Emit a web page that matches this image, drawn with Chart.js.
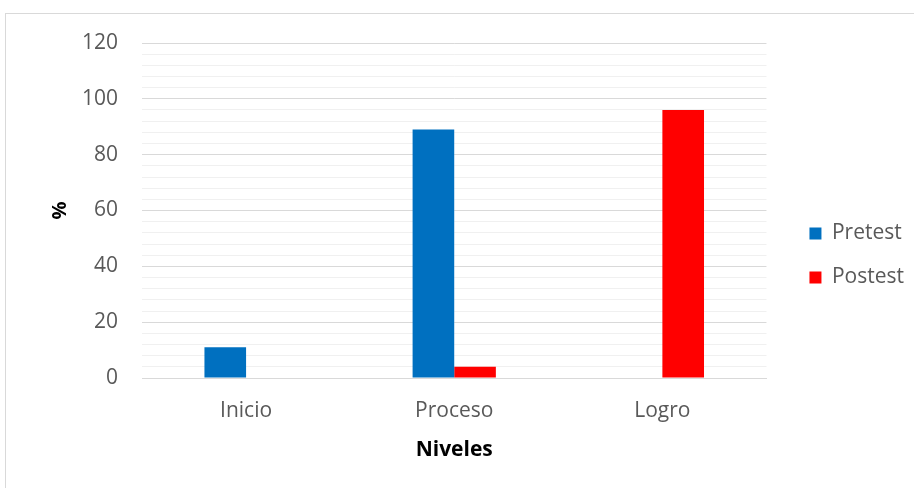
<!DOCTYPE html>
<html>
<head>
<meta charset="utf-8">
<script src="https://cdn.jsdelivr.net/npm/chart.js@4"></script>
<style>
  html, body { margin: 0; padding: 0; overflow: hidden; background: #fff; }
  #frame { position: absolute; left: 5px; top: 13px; width: 940px; height: 500px; border: 1px solid #d9d9d9; }
  #wrap { position: absolute; left: 0; top: 0; width: 914px; height: 488px; }
</style>
</head>
<body>
<div id="frame"></div>
<div id="wrap"><canvas id="myBarChart"></canvas></div>
<script>
var categories = ["Inicio", "Proceso", "Logro"];
var pretest = [11, 89, 0];
var postest = [0, 4, 96];
var seriesNames = ["Pretest", "Postest"];
var yTitle = "%";
var xTitle = "Niveles";

function makeChart() {
    var tickGray = "#595959";

    var graphData = {
        labels: categories,
        datasets: [{
            label: seriesNames[0],
            data: pretest,
            backgroundColor: "#0070C0",
            borderWidth: 0
        }, {
            label: seriesNames[1],
            data: postest,
            backgroundColor: "#FF0000",
            borderWidth: 0
        }]
    };

    var ctx = document.getElementById("myBarChart").getContext("2d");

    new Chart(ctx, {
        type: 'bar',
        data: graphData,
        options: {
            responsive: true,
            maintainAspectRatio: false,
            animation: false,
            datasets: { bar: { categoryPercentage: 0.4, barPercentage: 1 } },
            layout: { padding: { left: 40, top: 43, right: 0, bottom: 24 } },
            plugins: {
                tooltip: { enabled: false },
                legend: {
                    position: 'right',
                    // empty title only nudges the items down a little
                    title: { display: true, text: ' ', padding: 0, font: { size: 10, lineHeight: 0.4 } },
                    labels: {
                        boxWidth: 12,
                        boxHeight: 12,
                        padding: 23,
                        color: tickGray,
                        font: { family: "'Open Sans'", size: 21 }
                    }
                }
            },
            scales: {
                x: {
                    grid: { display: false },
                    border: { color: "#d9d9d9" },
                    ticks: { color: tickGray, padding: 12, font: { family: "'Open Sans'", size: 21 } },
                    title: {
                        display: true,
                        text: xTitle,
                        color: "#000",
                        padding: { top: 4, bottom: 1 },
                        font: { family: "'Open Sans'", size: 21, weight: 'bold' }
                    },
                    afterFit: function (s) { s.height = 86; }
                },
                y: {
                    min: 0,
                    max: 120,
                    border: { display: false },
                    grid: {
                        drawTicks: false,
                        color: function (c) {
                            return c.tick && c.tick.value % 20 === 0 ? "#d9d9d9" : "#f0f0f0";
                        }
                    },
                    ticks: {
                        stepSize: 4,
                        autoSkip: false,
                        padding: 24,
                        color: tickGray,
                        font: { family: "'Open Sans'", size: 21 },
                        callback: function (v) { return v % 20 === 0 ? v : ''; }
                    },
                    title: {
                        display: true,
                        text: yTitle,
                        color: "#000",
                        padding: { top: 8, bottom: 0 },
                        font: { family: "'Open Sans'", size: 20, weight: 'bold' }
                    },
                    afterFit: function (s) { s.width = 102; }
                },
                y2: {
                    position: 'right',
                    grid: { display: false },
                    border: { display: false },
                    ticks: { display: false },
                    afterFit: function (s) { s.width = 20; }
                }
            }
        }
    });
}

makeChart();
</script>
</body>
</html>
